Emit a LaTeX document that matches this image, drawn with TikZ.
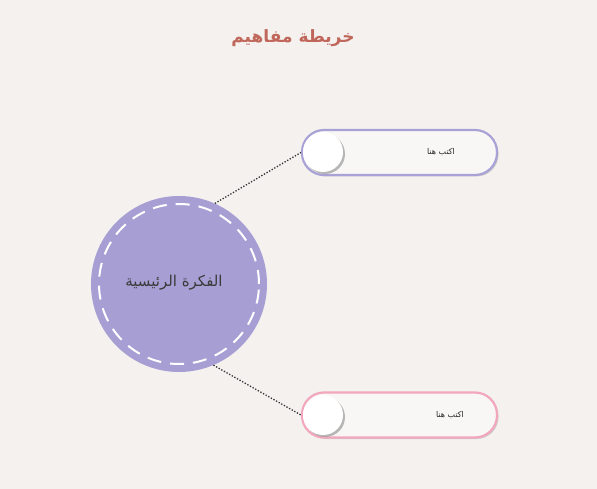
\documentclass[tikz,border=0pt]{standalone}
\usepackage{fontspec}
\newfontfamily\arabicfont[Script=Arabic]{DejaVu Sans}
\TeXXeTstate=1
\usetikzlibrary{shadows}
\definecolor{bgc}{HTML}{F4F1EE}
\definecolor{lav}{HTML}{A79FD3}
\definecolor{lavline}{HTML}{A9A2D6}
\definecolor{pinkline}{HTML}{F2A7BD}
\definecolor{titlec}{HTML}{C0665A}
\definecolor{txtc}{HTML}{3A3A3A}
\tikzset{
  pill/.style={rectangle, rounded corners=22pt, minimum width=195pt, minimum height=45pt, line width=2.2pt, fill=bgc!60!white, inner sep=0pt,
    drop shadow={shadow xshift=1.5pt, shadow yshift=-1.5pt, fill=black!30, opacity=0.6}},
  knob/.style={circle, minimum size=40pt, fill=white, inner sep=0pt,
    drop shadow={shadow xshift=2pt, shadow yshift=-2pt, fill=black!45, opacity=0.6}},
  link/.style={dash pattern=on 1.3pt off 1.7pt, line width=1.3pt, black!80},
  pilltext/.style={font=\arabicfont\fontsize{8}{9}\selectfont, text=black!85},
}
\begin{document}
\begin{tikzpicture}[x=1pt,y=-1pt]
\fill[bgc] (0,0) rectangle (597,489);
\useasboundingbox (0,0) rectangle (597,489);
\node[font=\arabicfont\bfseries\fontsize{17}{20}\selectfont, text=titlec] (title) at (293,38) {\beginR خريطة مفاهيم\endR};
% main circle
\node[circle, minimum size=176pt, fill=lav, inner sep=0pt] (main) at (179,284) {};
\draw[white, line width=2pt, dash pattern=on 14pt off 9pt] (main.center) circle (80pt);
\node[font=\arabicfont\fontsize{15}{18}\selectfont, text=txtc] (maintext) at (174,283) {\beginR الفكرة الرئيسية\endR};
% pills
\node[pill, draw=lavline] (p1) at (399.5,152.5) {};
\node[knob] (k1) at (323,152) {};
\node[pilltext] (t1) at (441,152) {\beginR اكتب هنا\endR};
\node[pill, draw=pinkline] (p2) at (399.5,415) {};
\node[knob] (k2) at (323,415) {};
\node[pilltext] (t2) at (450,415) {\beginR اكتب هنا\endR};
% connectors
\draw[link] (main.66) -- (p1.west);
\draw[link] (main.-67) -- (p2.west);
\end{tikzpicture}
\end{document}
